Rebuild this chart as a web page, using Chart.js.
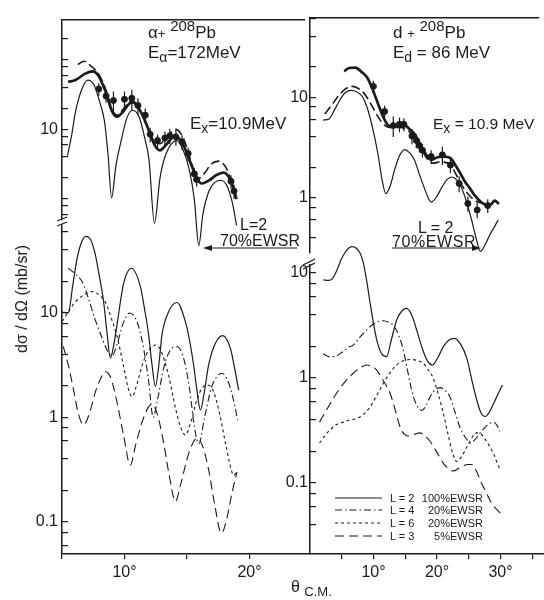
<!DOCTYPE html>
<html>
<head>
<meta charset="utf-8">
<script src="https://cdn.jsdelivr.net/npm/chart.js@4"></script>
<style>
  body { margin: 0; background: #fff; }
  #fig { position: relative; width: 544px; height: 600px; overflow: hidden; background: #fff;
         font-family: "Liberation Sans", Arial, sans-serif; color: #1b1b1b; }
  #fig canvas { position: absolute; }
  .t { position: absolute; white-space: nowrap; line-height: 1; font-size: 17px; }
  .sp { font-size: 15px; position: relative; top: -7px; }
  .sb { font-size: 14px; position: relative; top: 4px; }
  .lg { position: absolute; font-size: 11px; line-height: 1; white-space: nowrap; }
  .lg b { font-weight: normal; position: absolute; right: 0; }
</style>
</head>
<body>
<div id="fig">
  <canvas id="tl" width="310" height="260" style="left:0;top:0"></canvas>
  <canvas id="bl" width="310" height="400" style="left:0;top:200px"></canvas>
  <canvas id="tr" width="264" height="270" style="left:280px;top:0"></canvas>
  <canvas id="br" width="264" height="360" style="left:280px;top:240px"></canvas>

  <div class="t" style="left:148px;top:24px">α<span style="font-size:13px">+</span> <span class="sp">208</span>Pb</div>
  <div class="t" style="left:148px;top:44px">E<span class="sb">α</span>=172MeV</div>
  <div class="t" style="left:190px;top:115px">E<span class="sb">x</span>=10.9MeV</div>
  <div class="t" style="left:240px;top:217px;font-size:16px">L=2</div>
  <div class="t" style="left:220px;top:233px;font-size:16px">70%EWSR</div>

  <div class="t" style="left:393px;top:24px">d <span style="font-size:13px">+</span> <span class="sp">208</span>Pb</div>
  <div class="t" style="left:393px;top:44px">E<span class="sb">d</span> = 86 MeV</div>
  <div class="t" style="left:433px;top:116px;font-size:15.5px">E<span class="sb">x</span> = 10.9 MeV</div>
  <div class="t" style="left:418px;top:220px;font-size:16px">L = 2</div>
  <div class="t" style="left:392px;top:234px;font-size:16px;letter-spacing:0.6px">70%EWSR</div>

  <div class="t" style="left:22px;top:299px;font-size:16px;transform:translate(-50%,-50%) rotate(-90deg)">dσ / dΩ (mb/sr)</div>
  <div class="t" style="left:291px;top:579px;font-size:16px">θ <span style="font-size:13px;position:relative;top:4px">C.M.</span></div>

  <div class="lg" style="left:390px;top:493px;width:93px">L = 2<b>100%EWSR</b></div>
  <div class="lg" style="left:390px;top:505px;width:93px">L = 4<b>20%EWSR</b></div>
  <div class="lg" style="left:390px;top:518px;width:93px">L = 6<b>20%EWSR</b></div>
  <div class="lg" style="left:390px;top:531px;width:93px">L = 3<b>5%EWSR</b></div>

  <svg width="544" height="600" style="position:absolute;left:0;top:0;pointer-events:none" stroke="#1b1b1b" fill="none">
    <path d="M57 221 L67 217 M57 226 L67 222" stroke-width="1.3"/>
    <path d="M303 265 L315 259 M303 269 L315 263" stroke-width="1.3"/>
    <path d="M206 248 L297 248" stroke-width="1.2"/>
    <path d="M203 248 L212 245 L212 251 Z" fill="#1b1b1b" stroke="none"/>
    <path d="M392 248 L477 248" stroke-width="1.2"/>
    <path d="M481 248 L472 245 L472 251 Z" fill="#1b1b1b" stroke="none"/>
    <path d="M335 498 L382 498" stroke-width="1.1"/>
    <path d="M335 510 L382 510" stroke-width="1" stroke-dasharray="7 3 1.5 3"/>
    <path d="M335 523 L382 523" stroke-width="1" stroke-dasharray="3 3"/>
    <path d="M335 536 L382 536" stroke-width="1" stroke-dasharray="9 5"/>
  </svg>
</div>

<script>
// ---- alpha + 208Pb, 172 MeV (top left) ----
const tlThinX = [5.45, 5.8, 6.1, 6.6, 7.1, 7.6, 8.1, 8.47, 8.75, 9.05, 9.4, 9.8, 10.3, 10.75, 11.3, 11.8, 12.1, 12.55, 13.0, 13.5, 14.4, 14.9, 15.4, 15.8, 16.17, 16.5, 17.0, 17.5, 18.0, 18.5, 18.9, 19.25];
const tlThinY = [4.2, 8.5, 17.8, 37, 51, 44, 24, 13, 4.5, 1.04, 3.0, 6.5, 14.6, 18.8, 15, 6.9, 3.7, 0.45, 2.0, 4.5, 6.9, 5.0, 2.6, 1.0, 0.215, 0.6, 1.3, 1.75, 1.86, 1.5, 0.9, 0.42];
const tlSumX = [5.5, 6.1, 6.9, 7.5, 8.0, 8.5, 9.1, 9.5, 10.0, 10.5, 10.8, 11.3, 11.8, 12.2, 12.6, 13.0, 13.5, 14.2, 14.8, 15.5, 16.0, 16.4, 17.0, 17.6, 18.2, 18.8, 19.25];
const tlSumY = [48, 51, 63, 68, 58, 37, 18, 15.2, 18, 23.5, 24.4, 19.5, 13, 8.5, 5.8, 5.0, 6.0, 8.0, 6.5, 3.3, 2.0, 1.67, 1.85, 2.2, 2.4, 1.8, 1.0];
const tlDashX = [6.3, 6.8, 7.4, 8.0, 8.6, 9.1, 9.5, 10.0, 10.7, 11.3, 11.9, 12.5, 13.0, 13.6, 14.3, 14.9, 15.5, 16.0, 16.6, 17.2, 17.8, 18.4, 19.1];
const tlDashY = [85, 95, 80, 62, 36, 19, 16, 19.5, 26, 20, 12, 6.8, 6.2, 8, 10, 7.5, 3.6, 1.9, 2.3, 3.2, 3.5, 2.8, 1.3];
const tlDataX = [8.0, 8.6, 9.2, 10.1, 10.7, 11.2, 11.8, 12.2, 12.8, 13.4, 13.8, 14.3, 14.8, 15.3, 15.8, 16.0, 18.8, 19.05];
const tlDataY = [38, 30, 26, 27, 28, 22, 16, 8.5, 6.9, 7.5, 8.1, 7.8, 6.6, 4.5, 2.3, 1.9, 1.8, 1.3];
const tlDataErr = [8, 6, 9, 8, 9, 6, 4, 2, 1.5, 1.8, 2, 2, 1.6, 1, 0.5, 0.4, 0.4, 0.3];

// ---- alpha, components (bottom left) ----
const blL2X = [5.0, 5.5, 5.85, 6.2, 6.55, 6.9, 7.3, 7.67, 8.0, 8.33, 8.6, 8.87, 9.15, 9.4, 9.93, 10.55, 11.27, 11.6, 11.93, 12.2, 12.47, 12.75, 13.0, 13.53, 14.2, 14.87, 15.2, 15.53, 15.8, 16.07, 16.4, 16.73, 17.27, 17.85, 18.47, 18.8, 19.13];
const blL2Y = [10.2, 10, 18, 33, 47, 54, 50, 36, 22, 12.8, 6.5, 3.7, 5, 7.7, 19.2, 26.8, 17.9, 11, 6.2, 3.2, 1.98, 3.2, 6.2, 10.3, 12.6, 8.26, 5.5, 3.18, 1.8, 1.18, 1.8, 3.18, 5.13, 6.07, 4.6, 3.0, 1.83];
const blL4X = [5.5, 6.0, 6.6, 7.1, 7.6, 8.2, 8.7, 9.0, 9.4, 9.9, 10.4, 10.9, 11.4, 11.9, 12.3, 12.6, 13.2, 13.8, 14.2, 14.7, 15.2, 15.6, 15.95, 16.4, 17.0, 17.5, 17.8, 18.3, 18.7, 19.05];
const blL4Y = [26.8, 24, 20, 14, 9, 5.8, 4.2, 3.9, 5, 8, 10, 8.8, 5.5, 2.4, 1.0, 1.4, 3.2, 4.6, 4.75, 3.8, 1.9, 0.8, 0.56, 1.0, 2.0, 2.55, 2.65, 2.2, 1.5, 0.95];
const blL6X = [5.0, 5.5, 6.0, 6.6, 7.4, 8.0, 8.5, 9.0, 9.4, 9.9, 10.3, 10.6, 11.0, 11.5, 12.0, 12.47, 12.9, 13.5, 14.1, 14.5, 14.87, 15.3, 15.8, 16.2, 16.6, 17.1, 17.6, 18.1, 18.5, 18.73, 19.0];
const blL6Y = [8.3, 10.2, 12.5, 14.5, 16, 14.8, 12.5, 8.5, 6.0, 3.2, 1.9, 1.58, 2.1, 3.4, 4.5, 4.94, 4.4, 2.6, 1.2, 0.8, 0.68, 0.9, 1.5, 1.9, 2.05, 1.8, 1.1, 0.55, 0.33, 0.28, 0.3];
const blL3X = [5.1, 5.5, 5.9, 6.3, 6.73, 7.2, 7.7, 8.2, 8.47, 8.9, 9.4, 9.9, 10.47, 10.9, 11.4, 11.9, 12.2, 12.6, 13.1, 13.6, 14.07, 14.5, 15.0, 15.5, 15.8, 16.2, 16.7, 17.2, 17.75, 18.2, 18.6, 19.0];
const blL3Y = [4.8, 3.2, 1.9, 1.1, 0.85, 1.1, 1.8, 2.5, 2.75, 2.4, 1.4, 0.7, 0.35, 0.55, 0.9, 1.25, 1.33, 1.1, 0.6, 0.27, 0.157, 0.23, 0.4, 0.58, 0.63, 0.55, 0.33, 0.15, 0.078, 0.11, 0.19, 0.30];

// ---- d + 208Pb, 86 MeV (top right) ----
const trThinX = [2.1, 3.1, 4.0, 4.7, 5.6, 6.6, 7.5, 8.4, 9.1, 9.7, 10.4, 11.0, 11.6, 12.2, 12.9, 13.65, 14.4, 15.2, 16.0, 16.8, 17.6, 18.4, 19.0, 19.5, 20.3, 21.3, 22.0, 22.8, 23.6, 24.4, 25.2, 26.0, 26.7, 27.4, 28.2, 28.9, 29.6, 30.3];
const trThinY = [5.9, 6.1, 7.6, 9.1, 11, 11.7, 11.3, 10.2, 8.2, 6.1, 4.0, 2.56, 1.5, 1.09, 1.3, 1.92, 2.6, 3.0, 2.8, 2.38, 1.7, 1.24, 1.0, 0.9, 1.0, 1.29, 1.5, 1.6, 1.5, 1.24, 0.9, 0.6, 0.4, 0.29, 0.34, 0.42, 0.5, 0.6];
const trSumX = [5.5, 6.3, 7.3, 8.3, 9.2, 10.0, 10.5, 11.2, 11.8, 12.4, 12.9, 13.6, 14.4, 15.2, 16.0, 16.8, 17.6, 18.4, 19.0, 19.5, 20.1, 20.7, 21.6, 22.6, 23.4, 24.1, 24.9, 25.7, 26.5, 27.3, 28.0, 28.6, 29.2, 29.7, 30.4];
const trSumY = [18.1, 19.5, 19.7, 17.8, 15.7, 12.3, 10.2, 7.8, 6.3, 5.4, 5.1, 5.1, 5.3, 5.3, 4.8, 4.3, 3.5, 2.85, 2.5, 2.38, 2.45, 2.53, 2.55, 2.47, 2.1, 1.78, 1.45, 1.24, 1.05, 0.93, 0.86, 0.83, 0.86, 0.93, 0.86];
const trDashX = [2.4, 3.4, 4.7, 5.8, 6.8, 7.8, 8.7, 9.6, 10.5, 11.3, 12.1, 12.8, 13.4, 14.3, 15.2, 16.2, 17.1, 18.0, 18.9, 19.9, 20.7, 21.5, 22.6, 23.4, 24.1, 24.9, 25.7, 26.4, 27.0, 27.8];
const trDashY = [6.8, 8.2, 10.5, 12.2, 12.8, 12.2, 10.9, 9.0, 7.1, 5.9, 5.2, 5.0, 5.0, 5.0, 4.9, 4.4, 3.8, 3.0, 2.4, 2.2, 2.25, 2.25, 2.1, 1.75, 1.43, 1.2, 1.04, 0.95, 0.9, 0.88];
const trDataX = [10.2, 12.0, 13.4, 14.4, 15.1, 16.4, 17.1, 17.6, 18.1, 19.5, 21.3, 22.6, 24.0, 25.4, 26.9, 28.6];
const trDataY = [12.8, 7.2, 5.2, 5.36, 5.36, 4.1, 3.7, 3.3, 2.96, 2.56, 2.66, 2.1, 1.38, 0.87, 0.75, 0.83];
const trDataErr = [1.8, 1.0, 1.2, 0.9, 0.8, 0.7, 0.6, 0.5, 0.45, 0.4, 0.55, 0.35, 0.25, 0.15, 0.13, 0.13];

// ---- d, components (bottom right) ----
const brL2X = [2.1, 2.9, 3.5, 4.2, 5.0, 5.8, 6.6, 7.3, 7.9, 8.4, 8.9, 9.4, 10.0, 10.6, 11.3, 12.07, 12.8, 13.65, 14.4, 15.2, 16.0, 16.8, 17.7, 18.5, 19.27, 20.1, 21.0, 21.9, 22.8, 23.7, 24.7, 25.5, 26.25, 26.9, 27.6, 28.3, 28.9, 29.6, 30.3];
const brL2Y = [8.6, 8.5, 8.8, 10.5, 13.8, 16.5, 17.8, 17.2, 15.4, 12.5, 8.6, 5.5, 3.3, 2.2, 1.7, 1.6, 2.3, 3.57, 4.3, 4.6, 4.0, 2.86, 1.9, 1.45, 1.33, 1.55, 1.99, 2.3, 2.39, 2.1, 1.54, 0.95, 0.62, 0.47, 0.43, 0.48, 0.57, 0.7, 0.86];
const brL4X = [2.1, 3.0, 3.9, 5.0, 6.0, 6.8, 8.0, 9.45, 10.5, 11.55, 12.4, 13.1, 13.9, 14.7, 15.4, 16.0, 16.8, 17.6, 18.3, 18.9, 19.7, 20.5, 21.3, 22.05, 22.8, 23.6, 24.5, 25.3, 26.0, 26.8, 27.8, 28.9, 29.5, 29.9];
const brL4Y = [1.7, 1.6, 1.6, 1.75, 1.95, 2.06, 2.5, 3.08, 3.4, 3.51, 3.4, 3.19, 2.6, 1.85, 1.15, 0.77, 0.55, 0.49, 0.55, 0.66, 0.77, 0.81, 0.76, 0.66, 0.48, 0.34, 0.27, 0.24, 0.26, 0.30, 0.35, 0.38, 0.35, 0.31];
const brL6X = [1.5, 2.3, 3.15, 4.2, 5.25, 6.3, 7.35, 8.4, 9.45, 10.5, 11.55, 12.6, 13.65, 14.8, 15.9, 16.9, 17.85, 18.6, 19.4, 20.2, 21.0, 21.8, 22.5, 23.1, 23.9, 24.7, 25.5, 26.25, 27.0, 27.8, 28.9, 29.4, 29.9];
const brL6Y = [0.24, 0.28, 0.32, 0.36, 0.38, 0.4, 0.41, 0.45, 0.53, 0.68, 0.89, 1.12, 1.33, 1.47, 1.5, 1.47, 1.38, 1.2, 1.0, 0.7, 0.46, 0.28, 0.19, 0.16, 0.18, 0.22, 0.27, 0.3, 0.29, 0.25, 0.19, 0.16, 0.135];
const brL3X = [1.5, 2.8, 4.2, 5.5, 6.8, 7.9, 8.9, 9.7, 10.5, 11.5, 12.6, 13.4, 14.2, 14.9, 15.5, 16.4, 17.3, 18.1, 18.9, 19.9, 21.0, 21.8, 22.6, 23.4, 24.1, 24.8, 25.5, 26.2, 27.0, 27.8, 28.6, 29.4, 30.2];
const brL3Y = [0.38, 0.52, 0.72, 0.92, 1.11, 1.25, 1.33, 1.3, 1.19, 0.95, 0.72, 0.5, 0.34, 0.29, 0.28, 0.29, 0.30, 0.28, 0.25, 0.2, 0.154, 0.137, 0.13, 0.138, 0.145, 0.15, 0.15, 0.13, 0.1, 0.08, 0.064, 0.056, 0.05];

// axis ticks and labels
const leftXTicks = [5, 10, 15, 20];
const rightXTicks = [5, 10, 15, 20, 25, 30, 35];
const xLabelAngles = [10, 20, 30];
const tickMantissas = [1, 2, 4, 6, 8];
const tlYLabels = [10];
const blYLabels = [10, 1, 0.1];
const trYLabels = [10, 1];
const brYLabels = [10, 1, 0.1];

const INK = '#1b1b1b';
const FONT = '"Liberation Sans", Arial, sans-serif';

function logTicks(min, max) {
  const out = [];
  for (let e = -3; e <= 3; e++) {
    tickMantissas.forEach(m => {
      const v = +(m * Math.pow(10, e)).toPrecision(3);
      if (v >= min && v <= max) out.push(v);
    });
  }
  return out;
}

function curve(xs, ys, width, dash) {
  return {
    data: xs.map((x, i) => ({ x, y: ys[i] })),
    borderColor: INK, borderWidth: width, borderDash: dash || [],
    pointRadius: 0, fill: false, cubicInterpolationMode: 'monotone', clip: false
  };
}

function points(xs, ys, errs) {
  return {
    data: xs.map((x, i) => ({ x, y: ys[i] })),
    showLine: false, pointRadius: 3, pointBackgroundColor: INK, pointBorderColor: INK,
    borderColor: INK, errors: errs, clip: false
  };
}

// vertical error bars drawn through the chart's own scales
const errorBars = {
  id: 'errorBars',
  afterDatasetsDraw(chart) {
    const { ctx, scales: { x, y } } = chart;
    chart.data.datasets.forEach(ds => {
      if (!ds.errors) return;
      ctx.save();
      ctx.strokeStyle = INK;
      ctx.lineWidth = 1.2;
      ds.data.forEach((p, i) => {
        const px = x.getPixelForValue(p.x);
        ctx.beginPath();
        ctx.moveTo(px, y.getPixelForValue(p.y + ds.errors[i]));
        ctx.lineTo(px, y.getPixelForValue(p.y - ds.errors[i]));
        ctx.stroke();
      });
      ctx.restore();
    });
  }
};

function panel(id, o, datasets) {
  return new Chart(document.getElementById(id), {
    type: 'line',
    data: { datasets },
    plugins: [errorBars],
    options: {
      responsive: false, animation: false, devicePixelRatio: 1, events: [],
      layout: { padding: o.padding },
      plugins: { legend: { display: false }, tooltip: { enabled: false } },
      scales: {
        x: {
          type: 'linear', position: o.xPos, min: o.xMin, max: o.xMax,
          afterBuildTicks: s => { s.ticks = o.xTicks.map(v => ({ value: v })); },
          afterFit: s => { s.height = o.xHeight; },
          border: { display: true, color: INK, width: 1.5 },
          grid: { display: true, drawOnChartArea: false, drawTicks: o.xPos === 'bottom', tickLength: 5, color: INK, lineWidth: 1.2 },
          ticks: {
            display: o.xPos === 'bottom', autoSkip: false, maxRotation: 0, padding: 4, color: INK,
            font: { size: 16, family: FONT },
            callback: v => xLabelAngles.includes(v) ? v + '°' : ''
          }
        },
        y: {
          type: 'logarithmic', min: o.yMin, max: o.yMax,
          afterBuildTicks: s => { s.ticks = logTicks(o.yMin, o.yMax).map(v => ({ value: v })); },
          afterFit: s => { s.width = o.yWidth; },
          border: { display: true, color: INK, width: 1.5 },
          grid: { display: true, drawOnChartArea: false, drawTicks: true, tickLength: -6, color: INK, lineWidth: 1.2 },
          ticks: {
            autoSkip: false, padding: o.yPad, color: INK,
            font: { size: 16, family: FONT },
            callback: v => o.yLabels.includes(v) ? String(v) : ''
          }
        }
      }
    }
  });
}

panel('tl', {
  padding: { top: 10, bottom: 40, left: 0, right: 0 },
  xPos: 'top', xMin: 5, xMax: 24.84, xTicks: leftXTicks, xHeight: 0,
  yMin: 0.5, yMax: 376, yWidth: 62, yPad: 10, yLabels: tlYLabels
}, [
  curve(tlThinX, tlThinY, 1.2),
  curve(tlSumX, tlSumY, 2.7),
  curve(tlDashX, tlDashY, 1.6, [9, 4]),
  points(tlDataX, tlDataY, tlDataErr)
]);

panel('bl', {
  padding: { top: 25, bottom: 0, left: 0, right: 0 },
  xPos: 'bottom', xMin: 5, xMax: 24.84, xTicks: leftXTicks, xHeight: 46,
  yMin: 0.0494, yMax: 69.5, yWidth: 62, yPad: 10, yLabels: blYLabels
}, [
  curve(blL2X, blL2Y, 1.2),
  curve(blL4X, blL4Y, 1.1, [7, 3, 1.5, 3]),
  curve(blL6X, blL6Y, 1.1, [3, 3]),
  curve(blL3X, blL3Y, 1.1, [9, 5])
]);

panel('tr', {
  padding: { top: 10, bottom: 12, left: 0, right: 0 },
  xPos: 'top', xMin: 0, xMax: 36.85, xTicks: rightXTicks, xHeight: 0,
  yMin: 0.2836, yMax: 62.0, yWidth: 30, yPad: 8, yLabels: trYLabels
}, [
  curve(trThinX, trThinY, 1.2),
  curve(trSumX, trSumY, 2.7),
  curve(trDashX, trDashY, 1.6, [9, 4]),
  points(trDataX, trDataY, trDataErr)
]);

panel('br', {
  padding: { top: 25, bottom: 0, left: 0, right: 0 },
  xPos: 'bottom', xMin: 0, xMax: 36.85, xTicks: rightXTicks, xHeight: 46,
  yMin: 0.02108, yMax: 11.92, yWidth: 30, yPad: 8, yLabels: brYLabels
}, [
  curve(brL2X, brL2Y, 1.2),
  curve(brL4X, brL4Y, 1.1, [7, 3, 1.5, 3]),
  curve(brL6X, brL6Y, 1.1, [3, 3]),
  curve(brL3X, brL3Y, 1.1, [9, 5])
]);
</script>
</body>
</html>
